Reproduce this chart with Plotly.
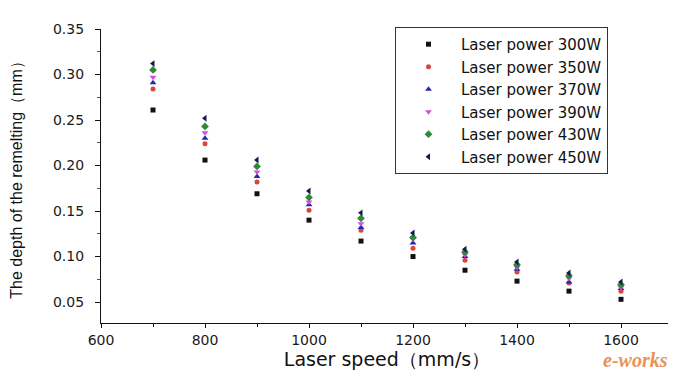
import plotly.graph_objects as go

speeds = [700, 800, 900, 1000, 1100, 1200, 1300, 1400, 1500, 1600]
p300 = [0.261, 0.206, 0.169, 0.140, 0.117, 0.100, 0.085, 0.073, 0.062, 0.053]
p350 = [0.284, 0.224, 0.182, 0.151, 0.129, 0.109, 0.096, 0.083, 0.071, 0.062]
p370 = [0.291, 0.230, 0.188, 0.157, 0.132, 0.115, 0.100, 0.086, 0.072, 0.065]
p390 = [0.297, 0.236, 0.193, 0.160, 0.136, 0.119, 0.102, 0.088, 0.076, 0.066]
p430 = [0.305, 0.243, 0.199, 0.165, 0.142, 0.121, 0.105, 0.091, 0.079, 0.069]
p450 = [0.312, 0.252, 0.206, 0.172, 0.148, 0.126, 0.108, 0.094, 0.082, 0.072]

series = [
    ("Laser power 300W", p300, "square", "#111111", 5),
    ("Laser power 350W", p350, "circle", "#d8463f", 5),
    ("Laser power 370W", p370, "triangle-up", "#2626a8", 6),
    ("Laser power 390W", p390, "triangle-down", "#d94be0", 6),
    ("Laser power 430W", p430, "diamond", "#2f8a35", 6),
    ("Laser power 450W", p450, "triangle-left", "#18184e", 6),
]

fig = go.Figure()
for name, vals, sym, col, sz in series:
    fig.add_trace(go.Scatter(
        x=speeds, y=vals, mode="markers", name=name,
        marker=dict(symbol=sym, color=col, size=sz, line=dict(width=0)),
    ))

tick_font = dict(family="DejaVu Sans, Arial, sans-serif", size=14, color="#1a1a1a")

# page body has an 8px default margin; figure sized to fit the 676x379 window
fig.update_layout(
    width=668, height=371,
    margin=dict(l=93, r=3, t=21, b=56),
    paper_bgcolor="white", plot_bgcolor="white",
    font=tick_font,
    showlegend=True,
    legend=dict(
        x=0.514, y=1.007, xanchor="left", yanchor="top",
        orientation="v", itemwidth=55, entrywidth=190,
        bordercolor="#333333", borderwidth=1, bgcolor="white",
        font=dict(family="DejaVu Sans, Arial, sans-serif", size=15, color="#111111"),
        itemsizing="trace", tracegroupgap=0,
    ),
    xaxis=dict(
        range=[600, 1700], tick0=600, dtick=200, automargin=False,
        showgrid=False, zeroline=False,
        showline=True, linecolor="#111111", linewidth=1.3,
        ticks="outside", ticklen=4, tickcolor="#111111",
        minor=dict(dtick=100, tick0=600, ticks="outside", ticklen=3, tickcolor="#111111", showgrid=False),
        tickfont=tick_font,
        title=dict(text="Laser speed（mm/s）", font=dict(family="DejaVu Sans, Arial, sans-serif", size=19, color="#111111"), standoff=2),
    ),
    yaxis=dict(
        range=[0.027, 0.35], tick0=0.05, dtick=0.05, tickformat=".2f", automargin=False,
        showgrid=False, zeroline=False,
        showline=True, linecolor="#111111", linewidth=1.3,
        ticks="outside", ticklen=5, tickcolor="#111111", ticklabelstandoff=8,
        minor=dict(dtick=0.025, tick0=0.05, ticks="outside", ticklen=3, tickcolor="#555555", showgrid=False),
        tickfont=tick_font,
        title=dict(text="The depth of the remelting（mm）", font=dict(family="Liberation Sans Narrow, Liberation Sans, Arial, sans-serif", size=16, color="#111111"), standoff=26),
    ),
)

fig.add_annotation(
    xref="paper", yref="paper", x=0.995, y=-0.125, xanchor="right", yanchor="middle",
    text="<i><b>e-works</b></i>", showarrow=False,
    font=dict(family="Liberation Serif, serif", size=20, color="#e8935a"),
)

fig.write_html("out.html")
